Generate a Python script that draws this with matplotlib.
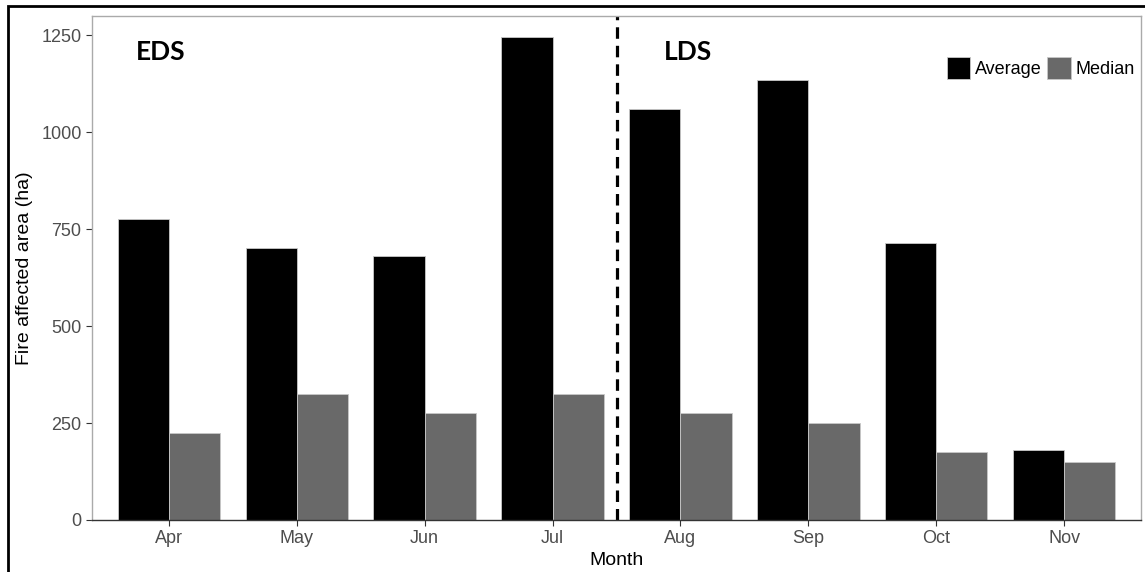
import numpy as np
import matplotlib
matplotlib.use("Agg")
import matplotlib.pyplot as plt
from matplotlib.patches import Rectangle, Patch

months = ["Apr", "May", "Jun", "Jul", "Aug", "Sep", "Oct", "Nov"]
average = [776, 701, 680, 1245, 1060, 1135, 715, 180]
median = [225, 325, 275, 325, 275, 250, 175, 150]

plt.rcParams["font.family"] = ["Liberation Sans", "DejaVu Sans"]

fig = plt.figure(figsize=(11.45, 5.72), dpi=100)
ax = fig.add_axes([92 / 1145, 52 / 572, 1049 / 1145, 504 / 572])

x = np.arange(1, len(months) + 1)
w = 0.4
ax.bar(x - w / 2, average, width=w, color="black", edgecolor="#c8c8c8", linewidth=0.6, label="Average")
ax.bar(x + w / 2, median, width=w, color="#696969", edgecolor="#c8c8c8", linewidth=0.6, label="Median")

# separation between early and late dry season
ax.axvline(4.5, color="black", linewidth=2.3, linestyle=(0, (3.6, 2.2)))
ax.text(0.74, 1206, "EDS", fontsize=19, fontweight="bold", family="Lato", va="center", ha="left")
ax.text(4.87, 1206, "LDS", fontsize=19, fontweight="bold", family="Lato", va="center", ha="left")

ax.set_xlim(0.4, 8.6)
ax.set_ylim(0, 1299)
ax.set_xticks(x)
ax.set_xticklabels(months)
ax.set_yticks([0, 250, 500, 750, 1000, 1250])
ax.tick_params(colors="#333333", labelcolor="#4d4d4d", labelsize=13, length=4, width=0.8)
ax.set_xlabel("Month", fontsize=14, labelpad=3)
ax.set_ylabel("Fire affected area (ha)", fontsize=14, labelpad=6)

for side in ["top", "right", "left"]:
    ax.spines[side].set_color("#aaaaaa")
    ax.spines[side].set_linewidth(1.0)
ax.spines["bottom"].set_color("#333333")
ax.spines["bottom"].set_linewidth(1.0)

handles = [Patch(facecolor="black", edgecolor="#c8c8c8", linewidth=0.6),
           Patch(facecolor="#696969", edgecolor="#c8c8c8", linewidth=0.6)]
ax.legend(handles, ["Average", "Median"], ncol=2, loc="upper right",
          bbox_to_anchor=(1.004, 0.94), frameon=False, fontsize=13,
          handlelength=1.3, handleheight=1.45, handletextpad=0.25,
          columnspacing=0.3, borderaxespad=0.2)

# outer black frame of the image
fig.patches.append(Rectangle((8 / 1145, -0.05), 1.2, (572 - 6) / 572 + 0.05,
                             transform=fig.transFigure, fill=False,
                             edgecolor="black", linewidth=2, zorder=10))

fig.savefig("out.png", dpi=100)
